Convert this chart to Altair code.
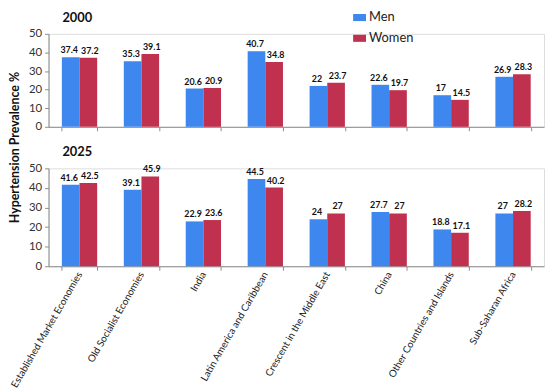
import altair as alt
import pandas as pd

regions = ["Established Market Economies", "Old Socialist Economies", "India",
           "Latin America and Caribbean", "Crescent in the Middle East", "China",
           "Other Countries and Islands", "Sub-Saharan Africa"]
men_2000 = [37.4, 35.3, 20.6, 40.7, 22, 22.6, 17, 26.9]
women_2000 = [37.2, 39.1, 20.9, 34.8, 23.7, 19.7, 14.5, 28.3]
men_2025 = [41.6, 39.1, 22.9, 44.5, 24, 27.7, 18.8, 27]
women_2025 = [42.5, 45.9, 23.6, 40.2, 27, 27, 17.1, 28.2]
sexes = ["Men", "Women"]
colors = ["#3D87EE", "#C0304F"]
y_ticks = [0, 10, 20, 30, 40, 50]
panel_titles = ["2000", "2025"]
y_title = "Hypertension Prevalence %"

FONT = "Lato"
W = 501


def make_df(men, women):
    rows = []
    for r, m, w in zip(regions, men, women):
        rows.append({"region": r, "sex": "Men", "value": m})
        rows.append({"region": r, "sex": "Women", "value": w})
    return pd.DataFrame(rows)


def panel(df, title, show_labels, show_legend, height, ytitle):
    x = alt.X("region:N", sort=regions, title=None,
              scale=alt.Scale(paddingInner=0.43, paddingOuter=0.215),
              axis=alt.Axis(labels=show_labels, labelAngle=-60, tickBand="extent",
                            domainColor="#8c8c8c", tickColor="#8c8c8c", tickSize=4,
                            labelFontSize=10, labelColor="#222", labelPadding=2,
                            labelFont=FONT))
    y = alt.Y("value:Q", scale=alt.Scale(domain=[0, 50], nice=False),
              axis=alt.Axis(values=y_ticks, grid=False, domainColor="#8c8c8c",
                            tickColor="#8c8c8c", tickSize=4, labelFontSize=11.5,
                            labelColor="#333", labelFont=FONT, labelPadding=3, title=None))
    if show_legend:
        legend = alt.Legend(title=None, orient="none", legendX=308, legendY=-23,
                            symbolType="M-1,-0.55H1V0.55H-1Z", symbolSize=169,
                            symbolStrokeWidth=0, symbolOpacity=1, labelFont=FONT,
                            labelFontSize=13, labelColor="#222", rowPadding=7,
                            labelOffset=3)
    else:
        legend = None
    color = alt.Color("sex:N", scale=alt.Scale(domain=sexes, range=colors), legend=legend)
    base = alt.Chart(df).encode(x=x, xOffset=alt.XOffset("sex:N", sort=sexes), y=y)
    bars = base.mark_bar().encode(color=color)
    layers = [bars]
    for s, dx in zip(sexes, [-1.5, 1.5]):
        layers.append(base.transform_filter(alt.datum.sex == s).mark_text(
            dy=-7, dx=dx, fontWeight="bold", fontSize=9, font=FONT, color="#111").encode(
            text=alt.Text("value:Q")))
    tdf = pd.DataFrame({"t": [title]})
    layers.append(alt.Chart(tdf).mark_text(align="left", baseline="middle", fontSize=13,
                                           fontWeight="bold", font=FONT, color="#111").encode(
        text="t:N", x=alt.value(14), y=alt.value(-16)))
    if ytitle:
        ydf = pd.DataFrame({"t": [y_title]})
        layers.append(alt.Chart(ydf).mark_text(angle=270, align="center", baseline="middle",
                                               fontSize=12.5, fontWeight="bold", font=FONT,
                                               color="#111").encode(
            text="t:N", x=alt.value(-34), y=alt.value(-21)))
    return alt.layer(*layers).resolve_scale(color="independent").properties(width=W, height=height)


top = panel(make_df(men_2000, women_2000), panel_titles[0], False, True, 94, False)
bottom = panel(make_df(men_2025, women_2025), panel_titles[1], True, False, 99, True)

chart = alt.vconcat(top, bottom, spacing=42, bounds="flush").resolve_scale(
    color="independent").properties(
    padding={"left": 0, "top": 0, "right": 0, "bottom": 0}
).configure_view(stroke=None).configure(background="white")

chart.save("out.html", embed_options={"renderer": "svg", "actions": False})
